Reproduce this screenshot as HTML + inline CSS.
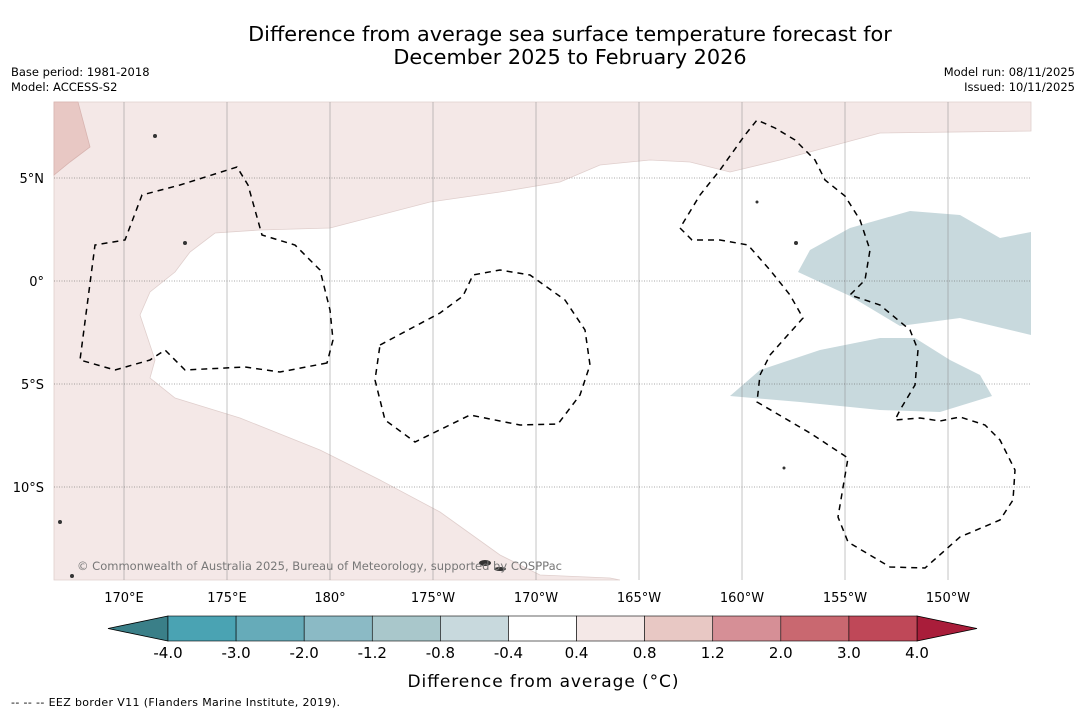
<!DOCTYPE html>
<html><head><meta charset="utf-8"><style>
body{margin:0;background:#fff;font-family:"Liberation Sans","DejaVu Sans",sans-serif}
svg text{font-family:"DejaVu Sans","Liberation Sans",sans-serif}
</style></head><body>
<svg id="s" width="1085" height="713" viewBox="0 0 1085 713">
<rect width="1085" height="713" fill="#fff"/>
<text x="570" y="41" font-size="20.8" text-anchor="middle">Difference from average sea surface temperature forecast for</text>
<text x="570" y="64" font-size="20.8" text-anchor="middle">December 2025 to February 2026</text>
<text x="11" y="76" font-size="11.5">Base period: 1981-2018</text>
<text x="11" y="91" font-size="11.5">Model: ACCESS-S2</text>
<text x="1075" y="76" font-size="11.5" text-anchor="end">Model run: 08/11/2025</text>
<text x="1075" y="91" font-size="11.5" text-anchor="end">Issued: 10/11/2025</text>
<g id="map">
<rect x="54" y="102" width="977" height="478" fill="#fff"/>
<path fill="#f4e8e7" stroke="#e0cfcd" stroke-width="0.8" d="M54,102 L1031,102 L1031,131 L880,133 L780,160 L730,172 L690,162 L650,160 L600,165 L560,182 L500,192 L430,202 L330,228 L260,230 L215,233 L190,252 L175,272 L150,292 L140,315 L155,360 L150,378 L175,398 L240,418 L320,450 L380,480 L440,512 L500,555 L540,575 L610,578 L620,580 L54,580 Z"/>
<path fill="#e8c8c4" stroke="#d8b4b0" stroke-width="0.8" d="M54,102 L78,102 L90,147 L70,162 L54,175 Z"/>
<path fill="#c8d9dd" d="M798,272 L810,250 L850,228 L910,211 L960,215 L1000,238 L1031,232 L1031,335 L960,318 L900,326 L850,296 Z"/>
<path fill="#c8d9dd" d="M730,396 L760,370 L820,350 L880,338 L915,338 L950,360 L980,375 L992,396 L940,412 L880,410 L800,402 Z"/>
<g id="grid"></g>
<g fill="none" stroke="#000" stroke-width="1.5" stroke-dasharray="6,5">
<path d="M327,363 L280,372 L245,367 L185,370 L165,350 L150,360 L115,370 L80,360 L95,245 L125,240 L142,195 L180,185 L237,167 L248,185 L262,235 L295,245 L320,270 L330,310 L333,340 Z"/>
<path d="M380,345 L440,313 L463,296 L473,275 L500,270 L530,275 L565,300 L585,330 L590,365 L580,395 L558,424 L520,425 L470,415 L415,442 L385,420 L375,380 Z"/>
<path d="M680,228 L692,240 L720,240 L748,245 L770,270 L790,295 L803,318 L770,355 L760,375 L757,402 L810,433 L848,458 L838,517 L848,542 L890,567 L925,568 L960,537 L1000,520 L1013,500 L1015,470 L1000,440 L985,425 L960,417 L940,421 L920,418 L895,420 L900,410 L915,385 L918,350 L910,330 L880,305 L850,295 L865,280 L870,250 L860,220 L845,196 L825,180 L815,160 L795,140 L775,128 L757,120 L745,135 L720,170 L700,195 Z"/>
</g>
<g fill="#333">
<ellipse cx="485" cy="563" rx="6" ry="3"/><ellipse cx="500" cy="569" rx="6" ry="2"/><circle cx="72" cy="576" r="2"/><circle cx="60" cy="522" r="2"/><circle cx="155" cy="136" r="2"/><circle cx="185" cy="243" r="2"/><circle cx="796" cy="243" r="2"/><circle cx="757" cy="202" r="1.5"/><circle cx="784" cy="468" r="1.5"/>
</g>
<text x="77" y="570" font-size="11.5" fill="#777" textLength="485">© Commonwealth of Australia 2025, Bureau of Meteorology, supported by COSPPac</text>
</g>
<g id="axes"></g>
<g id="cbar"></g>
<text x="543" y="687" font-size="17" text-anchor="middle" textLength="271">Difference from average (°C)</text>
<text x="11" y="706" font-size="11" textLength="329">--  --  -- EEZ border V11 (Flanders Marine Institute, 2019).</text>
</svg>
<script>
const lonTicks=[170,175,180,185,190,195,200,205,210];
const lonLabels=["170°E","175°E","180°","175°W","170°W","165°W","160°W","155°W","150°W"];
const latTicks=[5,0,-5,-10];
const latLabels=["5°N","0°","5°S","10°S"];
const levels=["-4.0","-3.0","-2.0","-1.2","-0.8","-0.4","0.4","0.8","1.2","2.0","3.0","4.0"];
const colors=["#4aa3b3","#66abb9","#8bbac5","#a9c7cb","#c8d9dd","#ffffff","#f4e8e7","#e8c8c4","#d68f96","#c96870","#bf4858"];
const NS="http://www.w3.org/2000/svg";
const xLon=l=>124+(l-170)*20.6, yLat=l=>281-l*20.6;
function mk(t,a,p){const e=document.createElementNS(NS,t);for(const k in a)e.setAttribute(k,a[k]);p.appendChild(e);return e;}
const grid=document.getElementById('grid'),axes=document.getElementById('axes'),cb=document.getElementById('cbar');
lonTicks.forEach((l,i)=>{const x=xLon(l);
 const g=mk('line',{x1:x,x2:x,y1:102,y2:580,stroke:'#888','stroke-width':0.5},grid);
 
 
 const t=mk('text',{x:x,y:602,'font-size':13,'text-anchor':'middle'},axes);t.textContent=lonLabels[i];
 
 });
latTicks.forEach((l,i)=>{const y=yLat(l);
 const g=mk('line',{x1:54,x2:1031,y1:y,y2:y,stroke:'#555','stroke-width':0.6,'stroke-dasharray':'1,1.5'},grid);
 
 
 const t=mk('text',{x:44,y:y+5,'font-size':13,'text-anchor':'end'},axes);t.textContent=latLabels[i];
 
 });
const x0=168,x1=917,bw=(x1-x0)/colors.length,y0=616,h=25;
const le=mk('polygon',{points:`108,${y0+h/2} ${x0},${y0} ${x0},${y0+h}`,fill:'#3a7f88',stroke:'#000','stroke-width':0.8},cb);


const re=mk('polygon',{points:`977,${y0+h/2} ${x1},${y0} ${x1},${y0+h}`,fill:'#a91d3a',stroke:'#000','stroke-width':0.8},cb);


colors.forEach((c,i)=>{const r=mk('rect',{x:x0+i*bw,y:y0,width:bw,height:h,fill:c,stroke:'#000','stroke-width':0.6},cb);
 
 });
levels.forEach((v,i)=>{const t=mk('text',{x:x0+i*bw,y:658,'font-size':15,'text-anchor':'middle'},cb);t.textContent=v;
 
 });
</script>
</body></html>
